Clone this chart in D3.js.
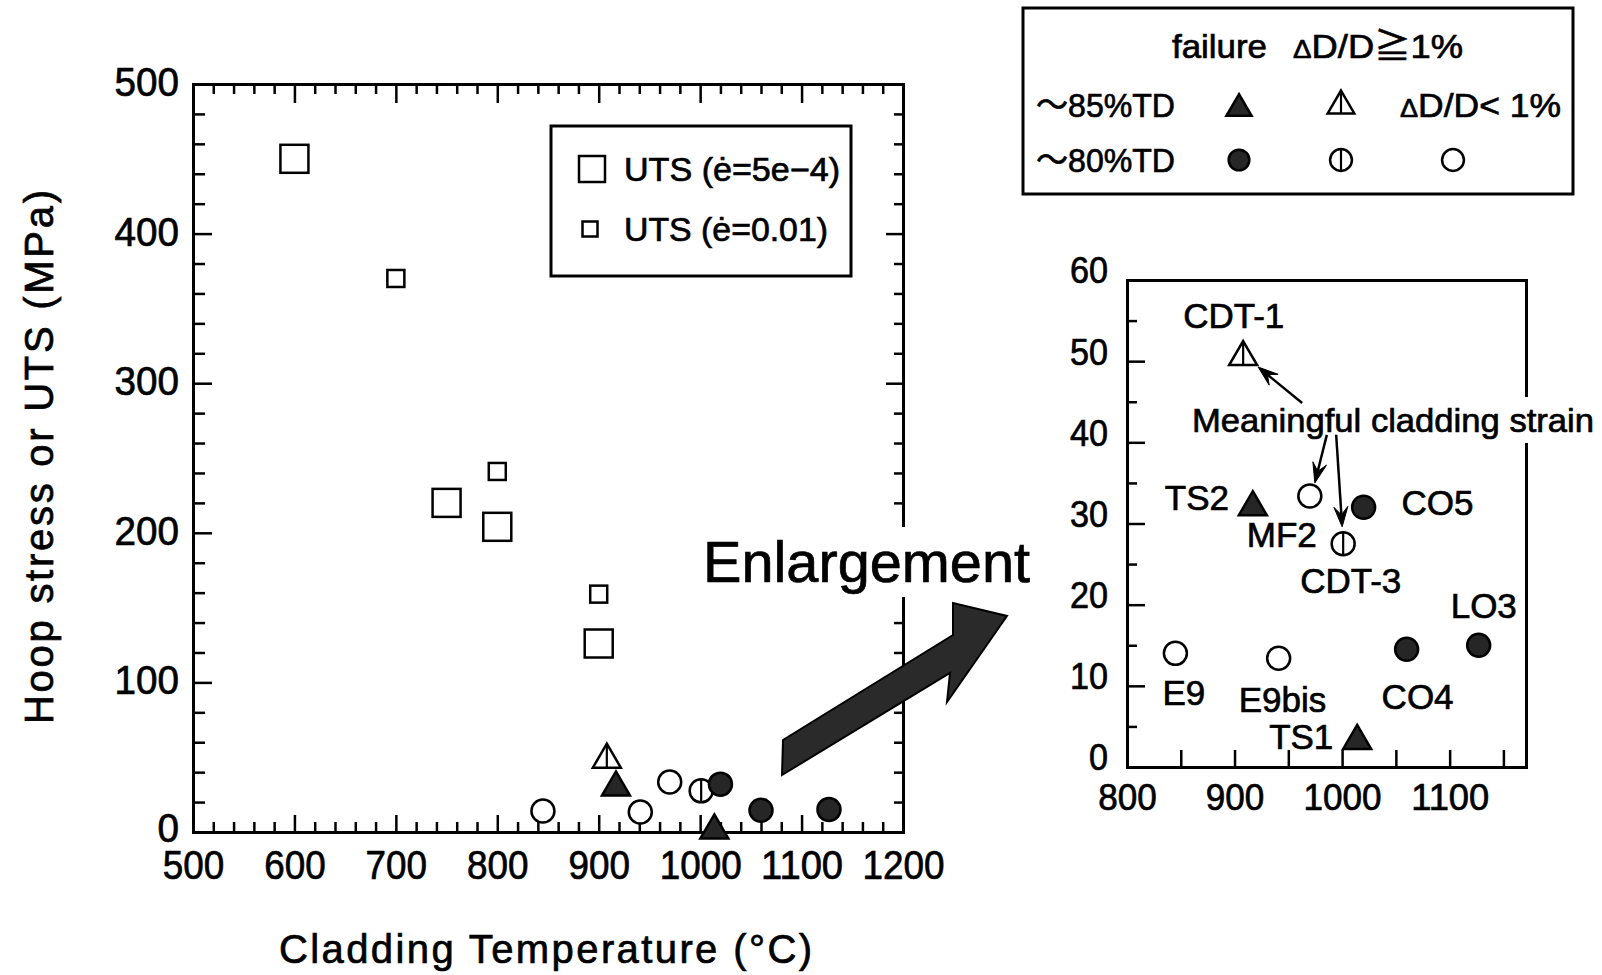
<!DOCTYPE html>
<html><head><meta charset="utf-8">
<script src="https://cdn.jsdelivr.net/npm/d3@7"></script>
<style>
body{margin:0;background:#fff;}
svg{display:block;}
text{font-family:"Liberation Sans", Arial, "Noto Sans CJK JP", sans-serif; fill:#000; stroke:#000; stroke-width:0.7px;}
</style></head><body>
<svg id="chart" width="1602" height="975"></svg>
<script>
// ---------------- data ----------------
const mainXTicks = [500,600,700,800,900,1000,1100,1200];
const mainYTicks = [0,100,200,300,400,500];
const insetXTicks = [800,900,1000,1100];
const insetYTicks = [0,10,20,30,40,50,60];

const utsSlowTemp = [600,750,800,900];
const utsSlowStress = [450,220,204,126];
const utsFastTemp = [700,800,900];
const utsFastStress = [370,241,159];

const testNames   = ["E9","TS2","CDT-1","E9bis","MF2","CDT-3","TS1","CO5","CO4","LO3"];
const testTemp    = [845,917,908,941,970,1001,1014,1020,1060,1127];
const testStress  = [14,32.5,51,13.4,33.4,27.5,3.7,32,14.5,15];
const testDensity = ["80","85","85","80","80","80","85","80","80","80"];
const testOutcome = ["small","failure","large","small","small","large","failure","failure","failure","failure"];

const legendRows = ["～85%TD","～80%TD"];
const legendRowDensity = ["85","80"];
const meaningful = ["CDT-1","MF2","CDT-3"];

// ---------------- layout ----------------
const svg = d3.select("#chart");

// label offsets for inset (pixels, relative to marker)
const labelOffset = {
  "CDT-1":[-60,-38], "TS2":[-88,-6], "MF2":[-63,38], "CO5":[38,-5], "CDT-3":[-43,36],
  "LO3":[-28,-40], "E9":[-13,39], "E9bis":[-40,41], "CO4":[-25,47], "TS1":[-88,-1]
};
// arrows: target offset and start offset (pixels relative to marker)
const arrowSpec = {
  "CDT-1":{end:[15,14], start:[59,50]},
  "MF2":{end:[5,-13], start:[17,-61]},
  "CDT-3":{end:[-1,-17], start:[-7,-109]}
};

const tests = testNames.map((n,i)=>({name:n,t:testTemp[i],s:testStress[i],dens:testDensity[i],out:testOutcome[i]}));

function marker(g, dens, out, cx, cy, scale){
  scale = scale||1;
  const sw = 2.5;
  const fill = out==="failure" ? "#262626" : "#fff";
  if(dens==="85"){
    const w=28*scale, h=24*scale;
    g.append("path").attr("d",`M${cx},${cy-h/2}L${cx+w/2},${cy+h/2}L${cx-w/2},${cy+h/2}Z`)
      .attr("fill",fill).attr("stroke","#000").attr("stroke-width",sw).attr("stroke-linejoin","miter");
    if(out==="large") g.append("line").attr("x1",cx).attr("x2",cx).attr("y1",cy-h/2).attr("y2",cy+h/2)
      .attr("stroke","#000").attr("stroke-width",2.2);
  } else {
    const r=11.5*scale;
    g.append("circle").attr("cx",cx).attr("cy",cy).attr("r",r)
      .attr("fill",fill).attr("stroke","#000").attr("stroke-width",sw);
    if(out==="large") g.append("line").attr("x1",cx).attr("x2",cx).attr("y1",cy-r).attr("y2",cy+r)
      .attr("stroke","#000").attr("stroke-width",2.2);
  }
}

function styleAxis(sel, sw){
  sel.select(".domain").attr("stroke","#000").attr("stroke-width",sw||3).attr("stroke-linecap","square");
  sel.selectAll(".tick line").attr("stroke","#000").attr("stroke-width",2.5);
}
function noDomain(sel){ sel.select(".domain").remove(); }

// ================= MAIN PLOT =================
const x = d3.scaleLinear().domain([500,1200]).range([193,903]);
const y = d3.scaleLinear().domain([0,500]).range([832,84]);
const xMinor = d3.range(500,1201,20).filter(v=>v%100!==0);
const yMinor = d3.range(0,501,20).filter(v=>v%100!==0);
const gm = svg.append("g");

gm.append("g").attr("transform",`translate(0,${y(0)})`)
  .call(d3.axisBottom(x).tickValues(mainXTicks).tickSize(-17).tickSizeOuter(0).tickFormat(""))
  .call(styleAxis);
gm.append("g").attr("transform",`translate(0,${y(0)})`)
  .call(d3.axisBottom(x).tickValues(xMinor).tickSize(-10).tickSizeOuter(0).tickFormat(""))
  .call(styleAxis).call(noDomain);
gm.append("g").attr("transform",`translate(0,${y(500)})`)
  .call(d3.axisTop(x).tickValues(mainXTicks).tickSize(-19).tickSizeOuter(0).tickFormat(""))
  .call(styleAxis);
gm.append("g").attr("transform",`translate(0,${y(500)})`)
  .call(d3.axisTop(x).tickValues(xMinor).tickSize(-10).tickSizeOuter(0).tickFormat(""))
  .call(styleAxis).call(noDomain);
gm.append("g").attr("transform",`translate(${x(500)},0)`)
  .call(d3.axisLeft(y).tickValues(mainYTicks).tickSize(-19).tickSizeOuter(0).tickFormat(""))
  .call(styleAxis);
gm.append("g").attr("transform",`translate(${x(500)},0)`)
  .call(d3.axisLeft(y).tickValues(yMinor).tickSize(-12).tickSizeOuter(0).tickFormat(""))
  .call(styleAxis).call(noDomain);
gm.append("g").attr("transform",`translate(${x(1200)},0)`)
  .call(d3.axisRight(y).tickValues(mainYTicks).tickSize(-17).tickSizeOuter(0).tickFormat(""))
  .call(styleAxis);
gm.append("g").attr("transform",`translate(${x(1200)},0)`)
  .call(d3.axisRight(y).tickValues(yMinor).tickSize(-9).tickSizeOuter(0).tickFormat(""))
  .call(styleAxis).call(noDomain);

// tick labels
const xl = gm.append("g").attr("transform",`translate(0,${y(0)})`)
  .call(d3.axisBottom(x).tickValues(mainXTicks).tickSize(0).tickFormat(d3.format("d")));
noDomain(xl);
xl.selectAll("text").attr("dy",null).attr("y",47).style("font-size","40px")
  .attr("textLength",d=>String(d).length*20.5).attr("lengthAdjust","spacingAndGlyphs");
const yl = gm.append("g").attr("transform",`translate(${x(500)},0)`)
  .call(d3.axisLeft(y).tickValues(mainYTicks).tickSize(0).tickPadding(14).tickFormat(d3.format("d")));
noDomain(yl);
yl.selectAll("text").attr("dy","0.36em").attr("y",d=>d===0?-5:-3).style("font-size","40px")
  .attr("textLength",d=>String(d).length*21.5).attr("lengthAdjust","spacingAndGlyphs");

// axis titles
svg.append("text").attr("x",(279+812)/2).attr("y",963).attr("text-anchor","middle")
  .style("font-size","40px").attr("textLength",533).attr("lengthAdjust","spacing")
  .text("Cladding Temperature (°C)");
svg.append("text").attr("transform",`translate(53,457) rotate(-90)`).attr("text-anchor","middle")
  .style("font-size","40px").attr("textLength",534).attr("lengthAdjust","spacing")
  .text("Hoop stress or UTS (MPa)");

// UTS squares
const gs = gm.append("g");
gs.selectAll("rect.slow").data(utsSlowTemp.map((t,i)=>[t,utsSlowStress[i]])).join("rect")
  .attr("x",d=>x(d[0])-14).attr("y",d=>y(d[1])-14).attr("width",28).attr("height",28)
  .attr("fill","none").attr("stroke","#000").attr("stroke-width",2.5);
gs.selectAll("rect.fast").data(utsFastTemp.map((t,i)=>[t,utsFastStress[i]])).join("rect")
  .attr("x",d=>x(d[0])-8.5).attr("y",d=>y(d[1])-8.5).attr("width",17).attr("height",17)
  .attr("fill","none").attr("stroke","#000").attr("stroke-width",2.5);

// hoop stress markers (main)
const gp = gm.append("g");
tests.forEach(d=>marker(gp,d.dens,d.out,x(d.t),y(d.s)));

// main legend
const lg = svg.append("g");
lg.append("rect").attr("x",551).attr("y",126).attr("width",300).attr("height",150)
  .attr("fill","#fff").attr("stroke","#000").attr("stroke-width",3);
lg.append("rect").attr("x",592-13).attr("y",169-13).attr("width",26).attr("height",26)
  .attr("fill","none").attr("stroke","#000").attr("stroke-width",2.5);
lg.append("rect").attr("x",590-7.5).attr("y",229-7.5).attr("width",15).attr("height",15)
  .attr("fill","none").attr("stroke","#000").attr("stroke-width",2.5);
lg.append("text").attr("x",624).attr("y",181).style("font-size","33px")
  .attr("textLength",216).attr("lengthAdjust","spacingAndGlyphs").text("UTS (ė=5e−4)");
lg.append("text").attr("x",624).attr("y",241).style("font-size","33px")
  .attr("textLength",204).attr("lengthAdjust","spacingAndGlyphs").text("UTS (ė=0.01)");

// Enlargement text + big arrow
svg.append("rect").attr("x",700).attr("y",527).attr("width",335).attr("height",70).attr("fill","#fff");
svg.append("text").attr("x",703).attr("y",582).style("font-size","57px")
  .attr("textLength",327).attr("lengthAdjust","spacingAndGlyphs").text("Enlargement");
const bigArrow = [[782,775],[783,740],[953,635],[953,603],[1007,616],[947,702],[950,673]];
svg.append("path").attr("d",d3.line()(bigArrow)+"Z")
  .attr("fill","#2a2a2a").attr("stroke","#000").attr("stroke-width",2).attr("stroke-linejoin","miter");

// ================= INSET =================
const xi = d3.scaleLinear().domain([800,1171]).range([1127,1526]);
const yi = d3.scaleLinear().domain([0,60]).range([767,280]);
const gi = svg.append("g");
gi.append("g").attr("transform",`translate(0,${yi(0)})`)
  .call(d3.axisBottom(xi).tickValues(d3.range(850,1171,50)).tickSize(-17).tickSizeOuter(0).tickFormat(""))
  .call(styleAxis);
gi.append("g").attr("transform",`translate(0,${yi(60)})`)
  .call(d3.axisTop(xi).tickValues([]).tickSizeOuter(0)).call(styleAxis);
gi.append("g").attr("transform",`translate(${xi(800)},0)`)
  .call(d3.axisLeft(yi).tickValues(insetYTicks.filter(v=>v>0&&v<60)).tickSize(-18).tickSizeOuter(0).tickFormat(""))
  .call(styleAxis);
gi.append("g").attr("transform",`translate(${xi(800)},0)`)
  .call(d3.axisLeft(yi).tickValues(d3.range(5,60,10)).tickSize(-10).tickSizeOuter(0).tickFormat(""))
  .call(styleAxis).call(noDomain);
gi.append("g").attr("transform",`translate(${xi(1171)},0)`)
  .call(d3.axisRight(yi).tickValues([]).tickSizeOuter(0)).call(styleAxis);

const xil = gi.append("g").attr("transform",`translate(0,${yi(0)})`)
  .call(d3.axisBottom(xi).tickValues(insetXTicks).tickSize(0).tickFormat(d3.format("d")));
noDomain(xil);
xil.selectAll("text").attr("dy",null).attr("y",43).style("font-size","36px")
  .attr("textLength",d=>String(d).length*19.5).attr("lengthAdjust","spacingAndGlyphs");
const yil = gi.append("g").attr("transform",`translate(${xi(800)},0)`)
  .call(d3.axisLeft(yi).tickValues(insetYTicks).tickSize(0).tickPadding(19).tickFormat(d3.format("d")));
noDomain(yil);
yil.selectAll("text").attr("dy","0.36em").attr("y",-10).style("font-size","36px")
  .attr("textLength",d=>String(d).length*19).attr("lengthAdjust","spacingAndGlyphs");

// white band behind the annotation text (breaks the right axis)
gi.append("rect").attr("x",1190).attr("y",397).attr("width",410).attr("height",46).attr("fill","#fff");

// inset markers
tests.forEach(d=>marker(gi,d.dens,d.out,xi(d.t),yi(d.s)));
// inset labels
tests.forEach(d=>{
  const o = labelOffset[d.name];
  gi.append("text").attr("x",xi(d.t)+o[0]).attr("y",yi(d.s)+o[1]+13).style("font-size","35px").text(d.name);
});
// annotation
gi.append("text").attr("x",1192).attr("y",432).style("font-size","34px")
  .attr("textLength",402).attr("lengthAdjust","spacingAndGlyphs").text("Meaningful cladding strain");

function arrow(g,x1,y1,x2,y2){
  const dx=x2-x1, dy=y2-y1, L=Math.hypot(dx,dy), ux=dx/L, uy=dy/L, nx=-uy, ny=ux;
  const hl=20, hw=7;
  g.append("line").attr("x1",x1).attr("y1",y1).attr("x2",x2-ux*hl*0.6).attr("y2",y2-uy*hl*0.6)
    .attr("stroke","#000").attr("stroke-width",2.5);
  const p=[[x2,y2],[x2-ux*hl+nx*hw,y2-uy*hl+ny*hw],[x2-ux*hl*0.6,y2-uy*hl*0.6],[x2-ux*hl-nx*hw,y2-uy*hl-ny*hw]];
  g.append("path").attr("d",d3.line()(p)+"Z").attr("fill","#000").attr("stroke","#000").attr("stroke-width",1);
}
meaningful.forEach(n=>{
  const d = tests.find(t=>t.name===n), a = arrowSpec[n];
  const ex = xi(d.t)+a.end[0], ey = yi(d.s)+a.end[1];
  arrow(gi, ex+a.start[0]-a.end[0], ey+a.start[1]-a.end[1], ex, ey);
});

// ================= TOP-RIGHT LEGEND =================
const tl = svg.append("g");
tl.append("rect").attr("x",1023).attr("y",8).attr("width",550).attr("height",186)
  .attr("fill","#fff").attr("stroke","#000").attr("stroke-width",3);
tl.append("text").attr("x",1172).attr("y",58).style("font-size","34px")
  .attr("textLength",95).attr("lengthAdjust","spacingAndGlyphs").text("failure");
const t1 = tl.append("text").attr("x",1293).attr("y",58).style("font-size","34px")
  .attr("textLength",170).attr("lengthAdjust","spacingAndGlyphs");
t1.append("tspan").style("font-size","26px").text("Δ");
t1.append("tspan").text("D/D≧1%");
const colX = [1239,1341,1453];
legendRows.forEach((lab,i)=>{
  const cy = i===0 ? 105 : 160;
  tl.append("text").attr("x",1036).attr("y",cy+12).style("font-size","34px")
    .attr("textLength",139).attr("lengthAdjust","spacingAndGlyphs").text(lab);
  marker(tl,legendRowDensity[i],"failure",colX[0],cy,0.9);
  marker(tl,legendRowDensity[i],"large",colX[1],cy-(i===0?3:0),0.95);
  if(i===1) marker(tl,legendRowDensity[i],"small",colX[2],cy,0.95);
});
const t2 = tl.append("text").attr("x",1400).attr("y",117).style("font-size","34px")
  .attr("textLength",161).attr("lengthAdjust","spacingAndGlyphs");
t2.append("tspan").style("font-size","26px").text("Δ");
t2.append("tspan").text("D/D< 1%");
</script>
</body></html>
